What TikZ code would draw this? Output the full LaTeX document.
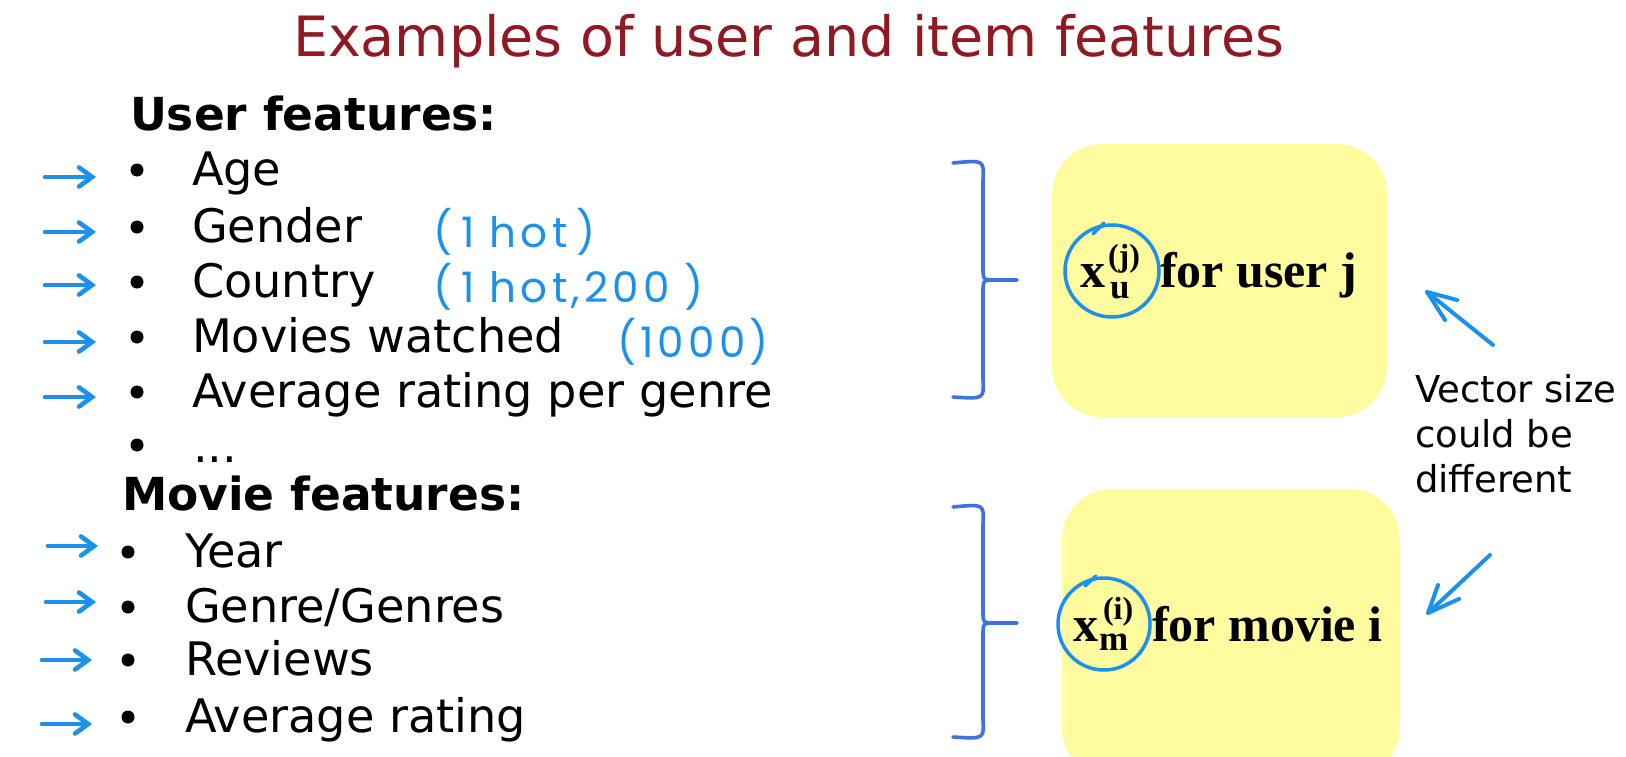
\documentclass[tikz,border=0pt]{standalone}
\usepackage{fontspec}
\setmainfont{DejaVu Sans}
\newfontfamily\serifbold{Liberation Serif}
\newfontfamily\handfont[LetterSpace=10]{Poppins}
\usetikzlibrary{arrows.meta}
\definecolor{titlered}{RGB}{145,25,35}
\definecolor{penblue}{RGB}{28,145,235}
\definecolor{braceblue}{RGB}{60,115,222}
\definecolor{boxyellow}{RGB}{255,251,158}
\newcommand\myTitleFs{\fontsize{55.5bp}{60bp}\selectfont}
\newcommand\myHeadFs{\fontsize{45.5bp}{50bp}\selectfont\bfseries}
\newcommand\myBodyFs{\fontsize{46.2bp}{50bp}\selectfont}
\newcommand\myNoteFs{\fontsize{37bp}{44bp}\selectfont}
\newcommand\myLblFs{\serifbold\bfseries\fontsize{50bp}{56bp}\selectfont}
\newcommand\mySubFs{\serifbold\bfseries\fontsize{35bp}{40bp}\selectfont}
\newcommand\mySupFs{\serifbold\bfseries\fontsize{32bp}{36bp}\selectfont}
\newcommand\myHandFs{\handfont\fontsize{42bp}{46bp}\selectfont}
\newcommand\myGap{\hspace{9bp}}
\begin{document}
\begin{tikzpicture}[x=1bp,y=-1bp,
  txt/.style={anchor=base west, inner sep=0pt, outer sep=0pt},
  bulletdot/.style={circle, fill=black, inner sep=0pt, minimum size=13bp},
  featbox/.style={fill=boxyellow, rounded corners=50bp, inner sep=0pt},
  handarrow/.style={draw=penblue, line width=4.6bp, line cap=round,
    -{Straight Barb[length=13bp,width=19bp,line cap=round]}},
  penline/.style={draw=penblue, line width=4bp, line cap=round, line join=round},
  ringline/.style={draw=penblue, line width=3.5bp, line cap=round},
  bracepath/.style={draw=braceblue, line width=3.6bp, line cap=round, line join=round},
  handnote/.style={txt, font=\myHandFs, text=penblue}]
\useasboundingbox (0,0) rectangle (1626,757);
\fill[white] (0,0) rectangle (1626,757);

% title
\node[txt, font=\myTitleFs, text=titlered] (title) at (293,57) {Examples of user and item features};

% user features
\node[txt, font=\myHeadFs] (uhead) at (130,130) {User features:};
\foreach \yy/\tt/\n/\ay in {185/Age/1/177, 242/Gender/2/232, 297/Country/3/285, 352/Movies watched/4/342, 407/Average rating per genre/5/397}{
  \node[txt, font=\myBodyFs] (u\n) at (192,\yy) {\tt};
  \node[bulletdot] (ub\n) at (137,{\yy-15}) {};
  \coordinate (uas\n) at (45,\ay);
  \coordinate (uae\n) at (96,\ay);
  \draw[handarrow] (uas\n) -- (uae\n);
}
\node[bulletdot] (ub6) at (137,445) {};
\node[txt, font=\myBodyFs] (u6) at (193,462) {...};

% movie features
\node[txt, font=\myHeadFs] (mhead) at (122,510) {Movie features:};
\foreach \yy/\tt/\n/\ay/\ax in {567/Year/1/546/48, 622/Genre\slash Genres/2/602/46, 675/Reviews/3/660/42, 732/Average rating/4/724/42}{
  \node[txt, font=\myBodyFs] (m\n) at (185,\yy) {\tt};
  \node[bulletdot] (mb\n) at (128,{\yy-15}) {};
  \coordinate (mas\n) at (\ax,\ay);
  \coordinate (mae\n) at ({\ax+50},\ay);
  \draw[handarrow] (mas\n) -- (mae\n);
}

% handwritten notes
\node[handnote] (n1) at (433,247) {(\myGap1 hot\myGap)};
\node[handnote] (n2) at (433,302) {(\myGap1 hot,200 )};
\node[handnote] (n3) at (617,357) {(1000)};

% boxes
\path[featbox] (1052,144) rectangle (1387,417);
\node[inner sep=0pt, minimum width=335bp, minimum height=273bp] (ubox) at (1219.5,280.5) {};
\path[featbox] (1062,489) rectangle (1400,778);
\node[inner sep=0pt, minimum width=338bp, minimum height=289bp] (mbox) at (1231,633.5) {};

% braces
\draw[bracepath] (953,163) .. controls (984,160) .. (983,180) -- (983,268)
   .. controls (983,280) .. (996,280) -- (1017,280);
\draw[bracepath] (996,280) .. controls (983,280) .. (983,292) -- (983,380)
   .. controls (984,399) .. (953,397);
\draw[bracepath] (953,507) .. controls (984,504) .. (983,524) -- (983,611)
   .. controls (983,623) .. (996,623) -- (1017,623);
\draw[bracepath] (996,623) .. controls (983,623) .. (983,635) -- (983,720)
   .. controls (984,739) .. (953,737);

% box labels
\node[txt, font=\myLblFs] (xu) at (1080,287) {x};
\node[txt, font=\mySubFs] (xusub) at (1110,298) {u};
\node[txt, font=\mySupFs] (xusup) at (1108,266) {(j)};
\node[txt, font=\myLblFs] (ulabel) at (1160,287) {for user j};
\draw[ringline] (1112,271) ellipse [x radius=47bp, y radius=46bp];
\draw[ringline] (1093,234) -- (1104,223);

\node[txt, font=\myLblFs] (xm) at (1073,641) {x};
\node[txt, font=\mySubFs] (xmsub) at (1099,650) {m};
\node[txt, font=\mySupFs] (xmsup) at (1103,619) {(i)};
\node[txt, font=\myLblFs] (mlabel) at (1152,641) {for movie i};
\draw[ringline] (1104,624) ellipse [x radius=46bp, y radius=46bp];
\draw[ringline] (1085,586) -- (1096,576);

% note on the right
\node[txt, font=\myNoteFs] (v1) at (1415,402) {Vector size};
\node[txt, font=\myNoteFs] (v2) at (1415,447) {could be};
\node[txt, font=\myNoteFs] (v3) at (1415,492) {different};

% right-hand arrows
\coordinate (ra1tail) at (1493,345);
\coordinate (ra1tip) at (1427,292);
\coordinate (ra1b1) at (1457,300);
\coordinate (ra1b2) at (1445,320);
\draw[penline] (ra1tail) -- (ra1tip);
\draw[penline] (ra1b1) -- (ra1tip) -- (ra1b2);
\coordinate (ra2tail) at (1490,555);
\coordinate (ra2tip) at (1428,613);
\coordinate (ra2b1) at (1438,585);
\coordinate (ra2b2) at (1459,599);
\draw[penline] (ra2tail) -- (ra2tip);
\draw[penline] (ra2b1) -- (ra2tip) -- (ra2b2);
\end{tikzpicture}
\end{document}
